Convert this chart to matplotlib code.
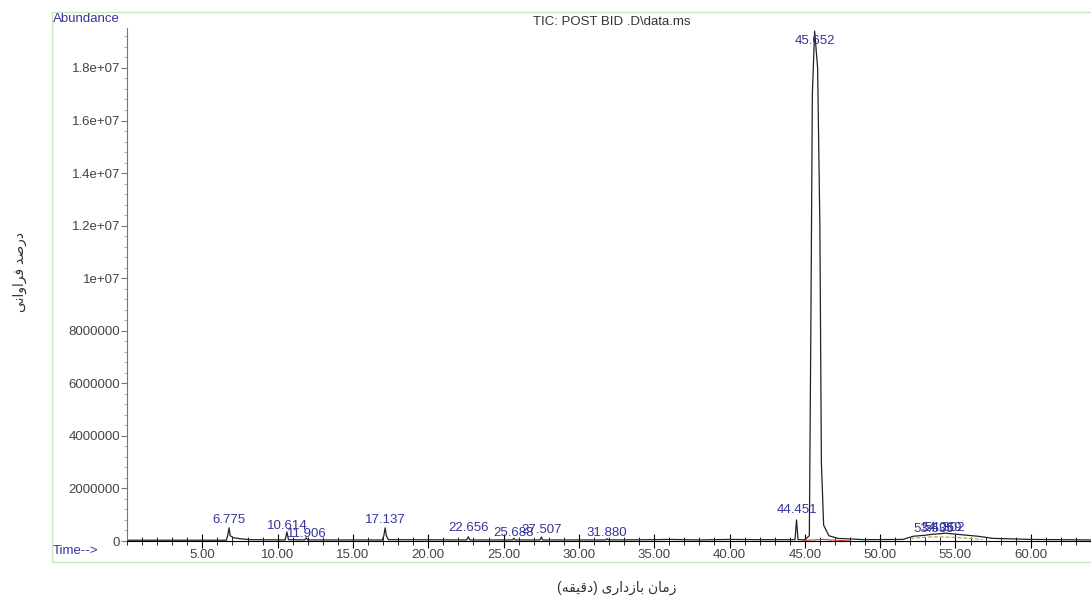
import numpy as np
import matplotlib
matplotlib.use("Agg")
import matplotlib.pyplot as plt
from matplotlib.patches import Rectangle
from matplotlib.ticker import MultipleLocator, FixedLocator

# TIC trace (minutes, abundance)
tic_time = [0.0, 6.6, 6.70, 6.775, 6.85, 7.1, 7.6, 8.2,
            10.5, 10.614, 10.72, 11.80, 11.906, 12.0,
            16.95, 17.05, 17.137, 17.22, 17.35,
            22.55, 22.656, 22.76, 25.60, 25.688, 25.78,
            27.42, 27.507, 27.60, 31.78, 31.880, 31.98,
            35.0, 36.0, 38.0, 40.0, 42.0,
            44.35, 44.451, 44.55, 45.0, 45.30, 45.40, 45.50, 45.652,
            45.85, 46.00, 46.10, 46.25, 46.6, 47.2, 49.0,
            51.5, 52.2, 53.0, 53.535, 54.069, 54.302, 55.2, 56.5, 57.5,
            60.0, 64.0]
tic_abund = [3e4, 3e4, 2.5e5, 5.0e5, 2e5, 1.2e5, 8e4, 5e4,
             4e4, 3.5e5, 5e4, 4e4, 1.2e5, 4e4,
             4e4, 2e5, 5.0e5, 2e5, 5e4,
             4e4, 1.6e5, 4e4, 4e4, 1.0e5, 4e4,
             4e4, 1.5e5, 4e4, 4e4, 8e4, 4e4,
             5e4, 6e4, 4e4, 6e4, 5e4,
             5e4, 8.0e5, 5e4, 5e4, 2e5, 8e6, 1.7e7, 1.94e7,
             1.8e7, 1.2e7, 3e6, 6e5, 2e5, 1e5, 5e4,
             6e4, 1.8e5, 2.2e5, 2.6e5, 2.8e5, 3.0e5, 2.5e5, 1.8e5, 1.0e5,
             6e4, 4e4]

# integration baselines (red / olive)
red_time = [44.9, 45.2, 46.2, 47.0, 48.0]
red_abund = [0, 3e4, 6e4, 3e4, 0]
olive_time = [52.0, 53.5, 55.0, 56.8]
olive_abund = [1.0e5, 1.6e5, 1.4e5, 6e4]

# peak labels
peak_time = [6.775, 10.614, 11.906, 17.137, 22.656, 25.688, 27.507,
             31.880, 44.451, 45.652, 53.535, 54.069, 54.302]
peak_text = ["6.775", "10.614", "11.906", "17.137", "22.656", "25.688",
             "27.507", "31.880", "44.451", "45.652", "53.535", "54.069",
             "54.302"]
peak_offset = [6, 4, 3, 6, 6, 4, 5, 4, 7, -7, 4, 4, 4]

y_ticks = [0, 2e6, 4e6, 6e6, 8e6, 1e7, 1.2e7, 1.4e7, 1.6e7, 1.8e7]
y_ticklabels = ["0", "2000000", "4000000", "6000000", "8000000",
                "1e+07", "1.2e+07", "1.4e+07", "1.6e+07", "1.8e+07"]
x_ticks = [5, 10, 15, 20, 25, 30, 35, 40, 45, 50, 55, 60]

title = "TIC: POST BID .D\\data.ms"
xlabel = "زمان بازداری (دقیقه)"
ylabel = "درصد فراوانی"

# matplotlib does no arabic shaping, so pick the joined forms by hand
FORMS = {
    'ا': ('\uFE8D', '\uFE8E', None, None),
    'ب': ('\uFE8F', '\uFE90', '\uFE91', '\uFE92'),
    'د': ('\uFEA9', '\uFEAA', None, None),
    'ر': ('\uFEAD', '\uFEAE', None, None),
    'ز': ('\uFEAF', '\uFEB0', None, None),
    'ص': ('\uFEB9', '\uFEBA', '\uFEBB', '\uFEBC'),
    'ف': ('\uFED1', '\uFED2', '\uFED3', '\uFED4'),
    'ق': ('\uFED5', '\uFED6', '\uFED7', '\uFED8'),
    'م': ('\uFEE1', '\uFEE2', '\uFEE3', '\uFEE4'),
    'ن': ('\uFEE5', '\uFEE6', '\uFEE7', '\uFEE8'),
    'ه': ('\uFEE9', '\uFEEA', '\uFEEB', '\uFEEC'),
    'و': ('\uFEED', '\uFEEE', None, None),
    'ی': ('\uFBFC', '\uFBFD', '\uFBFE', '\uFBFF'),
}


def shape(s):
    out = []
    for i, ch in enumerate(s):
        if ch not in FORMS:
            out.append(ch)
            continue
        prev = s[i - 1] if i > 0 else ''
        nxt = s[i + 1] if i + 1 < len(s) else ''
        join_prev = prev in FORMS and FORMS[prev][2] is not None
        join_next = nxt in FORMS and FORMS[ch][2] is not None
        iso, fin, ini, med = FORMS[ch]
        if join_prev and join_next:
            out.append(med)
        elif join_prev:
            out.append(fin)
        elif join_next:
            out.append(ini)
        else:
            out.append(iso)
    vis = ''.join(reversed(out))
    return vis.translate(str.maketrans('()', ')('))


plt.rcParams['font.family'] = ['Liberation Sans', 'DejaVu Sans']
blue = '#35359a'
grey = '#444444'

fig = plt.figure(figsize=(10.91, 5.98), dpi=100)
W, H = 1091, 598

# light green frame around the plot
fig.patches.append(Rectangle((52 / W, (H - 562) / H), 1.2, 550 / H,
                             transform=fig.transFigure, fill=False,
                             edgecolor='#c8e8c0', linewidth=1.0))

ax = fig.add_axes([127 / W, (H - 541) / H, (W - 127) / W, 513 / H])
ax.plot(tic_time, tic_abund, color='#222222', linewidth=0.9)
ax.plot(red_time, red_abund, color='#d04040', linewidth=0.8)
ax.plot(olive_time, olive_abund, color='#b0a040', linewidth=0.8,
        linestyle='--')

ax.set_xlim(0, 64)
ax.set_ylim(0, 1.952e7)

for t, s, off in zip(peak_time, peak_text, peak_offset):
    yv = np.interp(t, tic_time, tic_abund)
    ax.annotate(s, (t, yv), xytext=(0, off), textcoords='offset points',
                ha='center', va='center', color=blue, fontsize=9.5,
                annotation_clip=False)

for side in ['top', 'right']:
    ax.spines[side].set_visible(False)
ax.spines['left'].set_color('#777777')
ax.spines['bottom'].set_color('black')

ax.yaxis.set_major_locator(FixedLocator(y_ticks))
ax.set_yticklabels(y_ticklabels)
ax.yaxis.set_minor_locator(MultipleLocator(4e5))
ax.xaxis.set_major_locator(FixedLocator(x_ticks))
ax.set_xticklabels(["%.2f" % v for v in x_ticks])
ax.xaxis.set_minor_locator(MultipleLocator(1))

ax.tick_params(axis='y', which='major', direction='out', length=4,
               color='#777777', labelsize=9.5, labelcolor=grey, pad=1)
ax.tick_params(axis='y', which='minor', direction='out', length=2,
               color='#999999')
ax.tick_params(axis='x', which='major', direction='inout', length=10,
               color='black', labelsize=9.5, labelcolor=grey, pad=1)
ax.tick_params(axis='x', which='minor', direction='inout', length=6,
               color='black')

fig.text(53 / W, 1 - 19 / H, "Abundance", color=blue, fontsize=9.5,
         ha='left', va='center')
fig.text(53 / W, 1 - 551 / H, "Time-->", color=blue, fontsize=9.5,
         ha='left', va='center')
fig.text(612 / W, 1 - 22 / H, title, color='#333333', fontsize=9.5,
         ha='center', va='center')
fig.text(617 / W, 1 - 588 / H, shape(xlabel), color='#333333',
         fontsize=10, ha='center', va='center')
fig.text(20 / W, 1 - 272 / H, shape(ylabel), color='#333333',
         fontsize=10, ha='center', va='center', rotation=90)

fig.savefig("out.png", dpi=100)
